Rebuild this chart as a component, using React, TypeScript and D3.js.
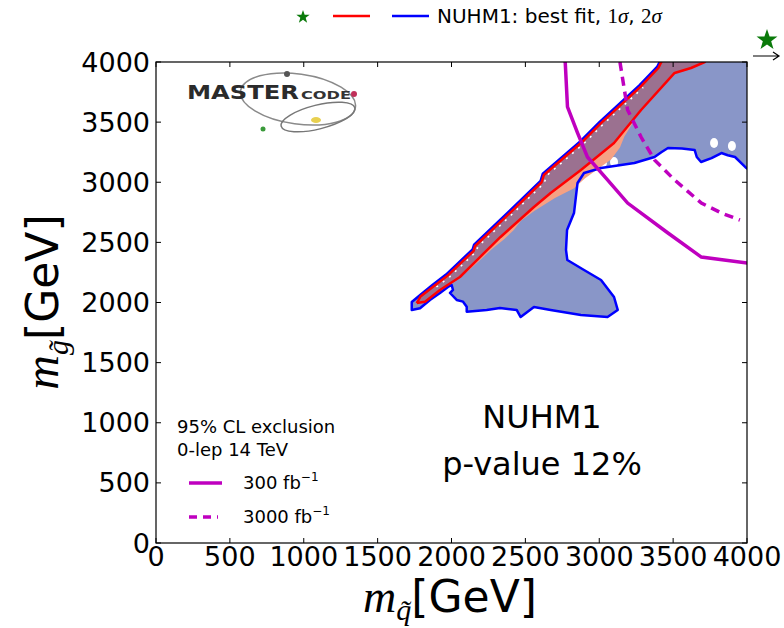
import React from 'react';
import * as d3 from 'd3';

type Pt = [number, number];

const width = 784;
const height = 628;
const plotLeft = 156;
const plotRight = 747;
const plotTop = 62;
const plotBottom = 543;

const ticks = [0, 500, 1000, 1500, 2000, 2500, 3000, 3500, 4000];

// 2 sigma contour: from the right edge round the bottom to the tip, then up the diagonal
const twoSigmaEdge: Pt[] = [
  [4040, 3080], [3996, 3118], [3919, 3210], [3870, 3225], [3827, 3243], [3760, 3200],
  [3689, 3168], [3660, 3210], [3646, 3268], [3560, 3280], [3465, 3285], [3420, 3250],
  [3374, 3210], [3238, 3160], [3012, 3118], [2897, 3077], [2853, 2994], [2829, 2744],
  [2782, 2603], [2775, 2437], [2784, 2353], [2897, 2270], [3012, 2187], [3100, 2046],
  [3125, 1938], [3056, 1879], [2876, 1896], [2671, 1938], [2558, 1963], [2468, 1879],
  [2441, 1938], [2328, 1954], [2238, 1938], [2103, 1923], [2103, 1965], [2078, 2007],
  [2035, 2021], [1990, 2079], [2010, 2104], [2001, 2146], [1976, 2129], [1922, 2079],
  [1854, 2021], [1787, 1952], [1731, 1938], [1731, 2004], [1788, 2062], [1873, 2147],
  [1963, 2232], [2143, 2442], [2153, 2482], [2393, 2762], [2603, 3012], [2618, 3072],
  [2873, 3342], [3003, 3502], [3273, 3807], [3393, 3962], [3433, 4060],
];

// 1 sigma band: upper edge from the tip, lower edge back down
const oneSigmaUpper: Pt[] = [
  [1765, 1995], [1790, 2050], [1880, 2135], [1970, 2220], [2150, 2430], [2160, 2470],
  [2400, 2750], [2610, 3000], [2625, 3060], [2880, 3330], [3010, 3490], [3280, 3795],
  [3400, 3950], [3440, 4050],
];
const oneSigmaLower: Pt[] = [
  [3740, 4050], [3714, 4000], [3621, 3950], [3510, 3909], [3283, 3601], [3100, 3326],
  [2876, 3102], [2671, 2911], [2558, 2794], [2332, 2545], [2193, 2378], [2057, 2212],
  [1922, 2104], [1821, 2007], [1765, 1995],
];

// salmon patches just under the 1 sigma band
const salmonEdge: Pt[] = [
  [3230, 3500], [3170, 3380], [3140, 3290], [3080, 3190], [2990, 3110], [2900, 3030],
  [2830, 2950], [2700, 2870], [2560, 2760], [2470, 2680], [2420, 2600], [2350, 2520],
  [2270, 2440], [2200, 2360], [2110, 2260], [2030, 2190], [1950, 2120], [1860, 2040],
];

const holes: Pt[] = [[3025, 3160], [3100, 3168], [3777, 3326], [3898, 3301]];

const excl300: Pt[] = [
  [2761, 4050], [2770, 3992], [2785, 3626], [2853, 3410], [2920, 3210], [3056, 3019],
  [3192, 2827], [3465, 2578], [3691, 2378], [4007, 2328],
];
const excl3000: Pt[] = [
  [3140, 4000], [3192, 3601], [3283, 3376], [3374, 3185], [3510, 3019], [3691, 2827],
  [3827, 2744], [3952, 2686],
];

const x = d3.scaleLinear().domain([0, 4000]).range([plotLeft, plotRight]);
const y = d3.scaleLinear().domain([0, 4000]).range([plotBottom, plotTop]);

const line = d3.line<Pt>().x(d => x(d[0])).y(d => y(d[1]));

const sans = 'DejaVu Sans, sans-serif';
const serif = 'Liberation Serif, DejaVu Serif, serif';

const starPath = (cx: number, cy: number, r: number) => {
  const pts: Pt[] = [];
  for (let i = 0; i < 10; i++) {
    const a = -Math.PI / 2 + (i * Math.PI) / 5;
    const rr = i % 2 === 0 ? r : r * 0.4;
    pts.push([cx + rr * Math.cos(a), cy + rr * Math.sin(a)]);
  }
  return 'M' + pts.map(p => p.join(',')).join('L') + 'Z';
};

const Logo = () => (
  <g>
    <ellipse cx={298} cy={99} rx={58} ry={25} fill="none" stroke="#8a8a8a" strokeWidth={1.5} transform="rotate(8 298 99)" />
    <ellipse cx={318} cy={117} rx={38} ry={12} fill="none" stroke="#777" strokeWidth={1.5} transform="rotate(-14 318 117)" />
    <text x={187} y={99} fontFamily={sans} fontWeight="bold" fontSize={19} fill="#2b2b2b" textLength={112} lengthAdjust="spacingAndGlyphs">MASTER</text>
    <text x={301} y={99} fontFamily={sans} fontWeight="bold" fontSize={11} fill="#333" textLength={50} lengthAdjust="spacingAndGlyphs">CODE</text>
    <circle cx={287} cy={74} r={3} fill="#555" />
    <circle cx={354} cy={94} r={3} fill="#c0305a" />
    <circle cx={263} cy={129} r={2.5} fill="#3a9a3a" />
    <ellipse cx={316} cy={120} rx={5} ry={3} fill="#e8d050" />
  </g>
);

const App = () => {
  const twoSigmaFill = line(twoSigmaEdge) + `L${x(4100)},${y(4100)}L${x(4100)},${y(3080)}Z`;
  const oneSigmaFill = line([...oneSigmaUpper, ...oneSigmaLower]) + 'Z';
  const salmonFill = line([...oneSigmaLower.slice(4), ...salmonEdge]) + 'Z';
  const whiteMarks = oneSigmaUpper
    .filter(d => d[0] > 1850 && d[0] < 3350)
    .map(d => [d[0] + 18, d[1] - 6] as Pt);

  return (
    <svg width={width} height={height} style={{ display: 'block', position: 'absolute', left: 0, top: 0 }}>
      <defs>
        <clipPath id="plot">
          <rect x={plotLeft} y={plotTop} width={plotRight - plotLeft} height={plotBottom - plotTop} />
        </clipPath>
      </defs>
      <rect width={width} height={height} fill="white" />

      <Logo />

      <g clipPath="url(#plot)">
        <path d={twoSigmaFill} fill="#8996c8" />
        {holes.map((h, i) => (
          <ellipse key={i} cx={x(h[0])} cy={y(h[1])} rx={4} ry={5} fill="white" />
        ))}
        <path d={salmonFill} fill="#f5a184" />
        <path d={oneSigmaFill} fill="#9b7190" />
        <path d={line(whiteMarks)!} fill="none" stroke="white" strokeWidth={1.6} strokeDasharray="2 6" />
        <path d={line(twoSigmaEdge)!} fill="none" stroke="#0000ff" strokeWidth={2.5} strokeLinejoin="round" />
        <path d={line(oneSigmaUpper)!} fill="none" stroke="#ff0000" strokeWidth={2.5} strokeLinejoin="round" />
        <path d={line(oneSigmaLower)!} fill="none" stroke="#ff0000" strokeWidth={2.5} strokeLinejoin="round" />
        <path d={line(excl300)!} fill="none" stroke="#bf00bf" strokeWidth={3.5} />
        <path d={line(excl3000)!} fill="none" stroke="#bf00bf" strokeWidth={3.5} strokeDasharray="9 6" />
      </g>

      <rect x={plotLeft} y={plotTop} width={plotRight - plotLeft} height={plotBottom - plotTop} fill="none" stroke="black" strokeWidth={1.2} />

      {ticks.map(t => (
        <g key={'x' + t}>
          <line x1={x(t)} x2={x(t)} y1={plotBottom} y2={plotBottom - 5} stroke="black" />
          <line x1={x(t)} x2={x(t)} y1={plotTop} y2={plotTop + 5} stroke="black" />
          <text x={x(t)} y={566} textAnchor="middle" fontFamily={sans} fontSize={27}>{t}</text>
        </g>
      ))}
      {ticks.map(t => (
        <g key={'y' + t}>
          <line x1={plotLeft} x2={plotLeft + 5} y1={y(t)} y2={y(t)} stroke="black" />
          <line x1={plotRight} x2={plotRight - 5} y1={y(t)} y2={y(t)} stroke="black" />
          <text x={150} y={y(t) + 9.5} textAnchor="end" fontFamily={sans} fontSize={27}>{t}</text>
        </g>
      ))}

      <text x={450} y={612} textAnchor="middle" fontSize={44} fontFamily={sans}>
        <tspan fontFamily={serif} fontStyle="italic" fontSize={46}>m</tspan>
        <tspan fontFamily={serif} fontStyle="italic" fontSize={30} dy={8}>q̃</tspan>
        <tspan dy={-8}>[GeV]</tspan>
      </text>
      <text transform="translate(58,302) rotate(-90)" textAnchor="middle" fontSize={44} fontFamily={sans}>
        <tspan fontFamily={serif} fontStyle="italic" fontSize={48}>m</tspan>
        <tspan fontFamily={serif} fontStyle="italic" fontSize={30} dy={10}>g̃</tspan>
        <tspan dy={-10}>[GeV]</tspan>
      </text>

      {/* top legend */}
      <path d={starPath(303, 17, 7)} fill="#0a7a0a" />
      <line x1={333} x2={370} y1={16} y2={16} stroke="#ff0000" strokeWidth={2.5} />
      <line x1={392} x2={429} y1={16} y2={16} stroke="#0000ff" strokeWidth={2.5} />
      <text x={437} y={23} fontFamily={sans} fontSize={20}>
        NUHM1: best fit, <tspan fontFamily={serif} fontSize={21}>1</tspan>
        <tspan fontFamily={serif} fontStyle="italic" fontSize={21}>σ</tspan>, <tspan fontFamily={serif} fontSize={21}>2</tspan>
        <tspan fontFamily={serif} fontStyle="italic" fontSize={21}>σ</tspan>
      </text>

      {/* best fit point off the chart */}
      <path d={starPath(767, 40, 11)} fill="#0a7a0a" />
      <path d="M753,56L779,56M773,52L779,56L773,60" fill="none" stroke="black" strokeWidth={1.2} />

      {/* exclusion legend */}
      <text x={177} y={433} fontFamily={sans} fontSize={18}>95% CL exclusion</text>
      <text x={177} y={456} fontFamily={sans} fontSize={18}>0-lep 14 TeV</text>
      <line x1={189} x2={222} y1={483} y2={483} stroke="#bf00bf" strokeWidth={3.5} />
      <text x={243} y={489} fontFamily={sans} fontSize={18}>
        300 fb<tspan dy={-8} fontSize={12}>−1</tspan>
      </text>
      <line x1={189} x2={218} y1={517} y2={517} stroke="#bf00bf" strokeWidth={3.5} strokeDasharray="8 6" />
      <text x={243} y={523} fontFamily={sans} fontSize={18}>
        3000 fb<tspan dy={-8} fontSize={12}>−1</tspan>
      </text>

      <text x={542} y={428} textAnchor="middle" fontFamily={sans} fontSize={32}>NUHM1</text>
      <text x={542} y={475} textAnchor="middle" fontFamily={sans} fontSize={32}>p-value 12%</text>
    </svg>
  );
};

export default App;
